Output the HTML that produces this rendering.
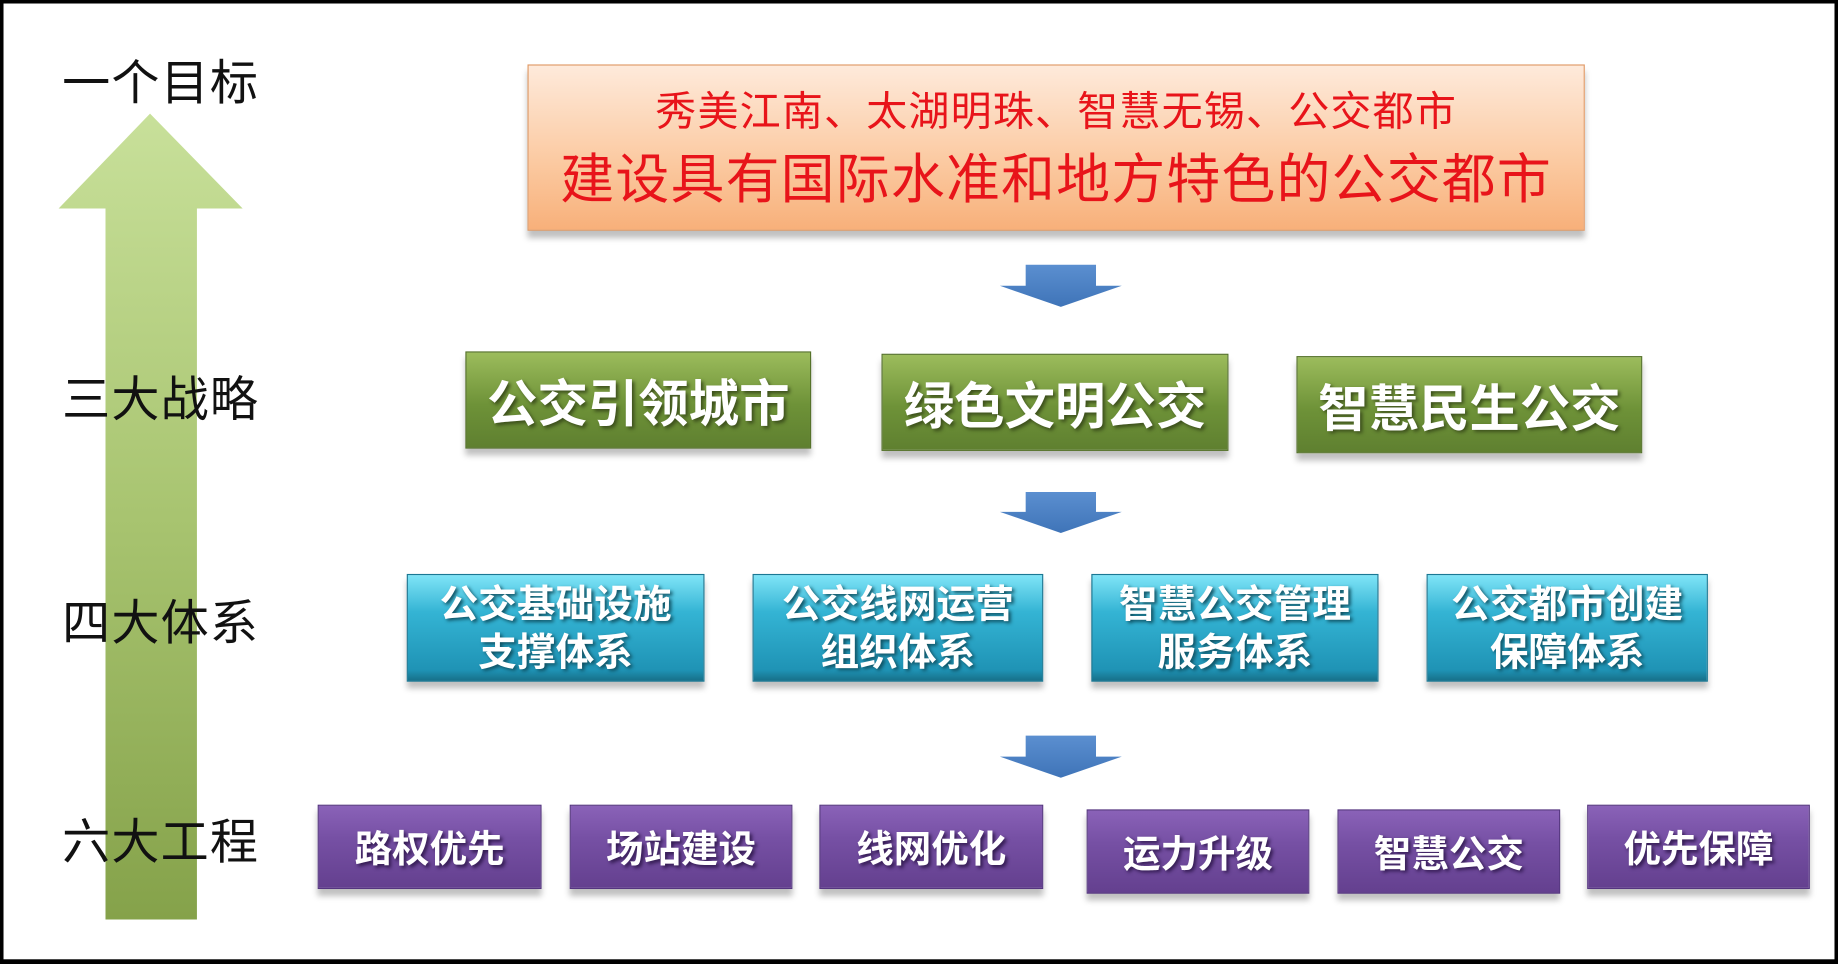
<!DOCTYPE html>
<html><head><meta charset="utf-8"><style>
html,body{margin:0;padding:0;background:#fff;}
#wrap{width:1838px;height:964px;overflow:hidden;position:relative;background:#fff;}
#s{position:absolute;left:0;top:0;width:1568px;height:823px;transform:scale(1.1722,1.1713);transform-origin:0 0;font-family:"Liberation Sans","Noto Sans CJK SC",sans-serif;}
.a{position:absolute;}
.lab{position:absolute;left:53px;font-size:41px;color:#111;letter-spacing:1px;}
.box{position:absolute;display:flex;align-items:center;justify-content:center;text-align:center;color:#fff;font-weight:bold;box-shadow:0 6px 5px rgba(0,0,0,0.25);}
.g{background:linear-gradient(#9cbc5c,#6e9238 55%,#5f8030);border:1px solid #55722a;font-size:43px;text-shadow:2px 2px 3px #3c4f1c;}
.t{background:linear-gradient(#7fe4f7,#34b4d4 35%,#1f93b5 90%,#17708a);border:1px solid #1a7894;font-size:33px;line-height:41px;text-shadow:2px 2px 3px #0f4f60;}
.p{background:linear-gradient(#8a62b8,#7650a4 40%,#64408f);border:1px solid #553580;font-size:32px;text-shadow:2px 2px 3px #321a50;}
</style></head><body><div id="wrap"><div id="s">
<div class="a" style="left:0;top:0;width:1562px;height:817px;border:3px solid #000;"></div>
<div class="a" style="left:0;top:819px;width:1568px;height:4px;background:#000"></div>

<svg class="a" style="left:0;top:0" width="1568" height="823">
<defs>
<linearGradient id="ga" x1="0" y1="0" x2="0" y2="1"><stop offset="0" stop-color="#c8e09a"/><stop offset="0.5" stop-color="#a8c470"/><stop offset="1" stop-color="#85a24a"/></linearGradient>
<linearGradient id="ba" x1="0" y1="0" x2="0" y2="1"><stop offset="0" stop-color="#5b8fd0"/><stop offset="1" stop-color="#3f74b8"/></linearGradient>
</defs>
<polygon points="128,97 207,178 168,178 168,785 90,785 90,178 50,178" fill="url(#ga)"/>
<polygon points="875,226 935,226 935,244 957,244 905,262 853,244 875,244" fill="url(#ba)"/>
<polygon points="875,420 935,420 935,437 957,437 905,455 853,437 875,437" fill="url(#ba)"/>
<polygon points="875,628 935,628 935,646 957,646 905,664 853,646 875,646" fill="url(#ba)"/>
</svg>

<div class="lab" style="top:37px">一个目标</div>
<div class="lab" style="top:307px">三大战略</div>
<div class="lab" style="top:498px">四大体系</div>
<div class="lab" style="top:685px">六大工程</div>

<div class="box" style="left:450px;top:55px;width:900px;height:140px;background:linear-gradient(#feeadb,#fbc9a0 60%,#f8b07a);border:1px solid #e09a66;flex-direction:column;color:#e8141a;font-weight:normal;">
<div style="font-size:35px;line-height:48px;letter-spacing:1px;margin-top:6px">秀美江南、太湖明珠、智慧无锡、公交都市</div>
<div style="font-size:46px;line-height:66px;letter-spacing:1px">建设具有国际水准和地方特色的公交都市</div>
</div>

<div class="box g" style="left:397px;top:300px;width:293px;height:81px">公交引领城市</div>
<div class="box g" style="left:752px;top:302px;width:294px;height:81px">绿色文明公交</div>
<div class="box g" style="left:1106px;top:304px;width:293px;height:81px">智慧民生公交</div>

<div class="box t" style="left:347px;top:490px;width:252px;height:90px">公交基础设施<br>支撑体系</div>
<div class="box t" style="left:642px;top:490px;width:246px;height:90px">公交线网运营<br>组织体系</div>
<div class="box t" style="left:931px;top:490px;width:243px;height:90px">智慧公交管理<br>服务体系</div>
<div class="box t" style="left:1217px;top:490px;width:238px;height:90px">公交都市创建<br>保障体系</div>

<div class="box p" style="left:271px;top:687px;width:189px;height:70px">路权优先</div>
<div class="box p" style="left:486px;top:687px;width:188px;height:70px">场站建设</div>
<div class="box p" style="left:699px;top:687px;width:189px;height:70px">线网优化</div>
<div class="box p" style="left:927px;top:691px;width:188px;height:70px">运力升级</div>
<div class="box p" style="left:1141px;top:691px;width:188px;height:70px">智慧公交</div>
<div class="box p" style="left:1354px;top:687px;width:188px;height:70px">优先保障</div>
</div></div></body></html>
